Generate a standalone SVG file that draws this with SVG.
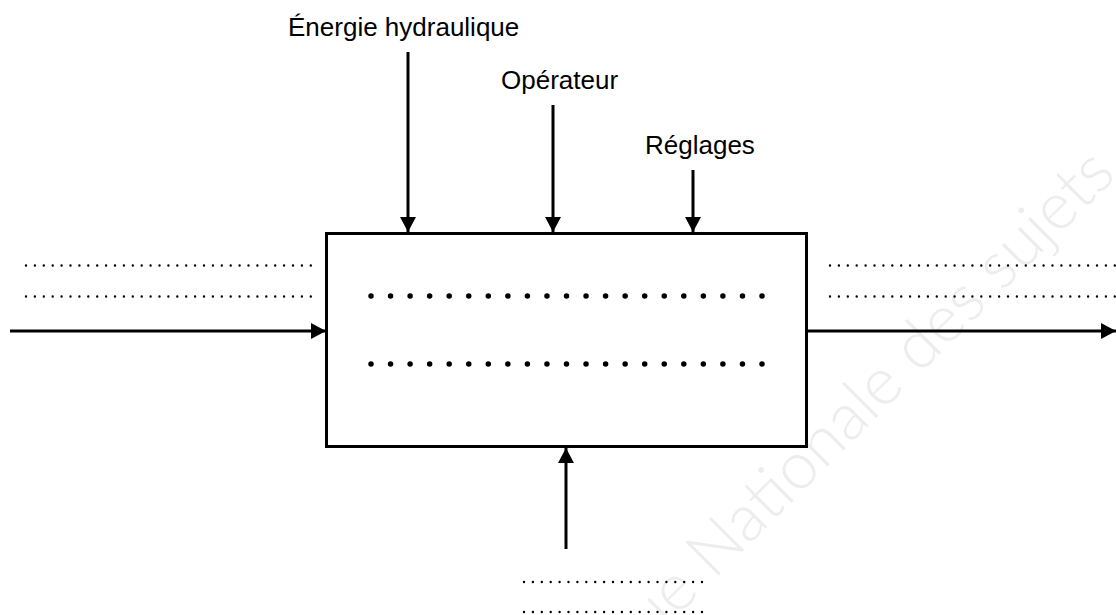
<svg xmlns="http://www.w3.org/2000/svg" width="1116" height="615" viewBox="0 0 1116 615">
  <style>
    .lbl { font-family: "Liberation Sans", Arial, sans-serif; font-size: 26px; fill: #000; }
    .wire { stroke: #000; stroke-width: 3; fill: none; }
    .dots { stroke: #000; stroke-width: 2.4; stroke-linecap: round; stroke-dasharray: 0 8.9; fill: none; }
    .bigdots { stroke: #000; stroke-width: 5.5; stroke-linecap: round; stroke-dasharray: 0 19.55; fill: none; }
    .wm { font-family: "Lato", "Open Sans", sans-serif; font-size: 66px; font-weight: 300; fill: #ededed; }
  </style>
  <defs>
    <marker id="arrow" markerUnits="userSpaceOnUse" markerWidth="17" markerHeight="17" refX="15" refY="8" orient="auto">
      <path d="M0,0 L15,8 L0,16 Z" fill="#000"/>
    </marker>
  </defs>
  <rect width="1116" height="615" fill="#fff"/>

  <g id="watermark">
    <text class="wm" transform="translate(722,572) rotate(-45)" x="-246" y="0">Banque Nationale des sujets</text>
  </g>

  <g id="connectors">
    <line class="wire" x1="408" y1="52" x2="408" y2="232" marker-end="url(#arrow)"/>
    <line class="wire" x1="553" y1="105" x2="553" y2="232" marker-end="url(#arrow)"/>
    <line class="wire" x1="693" y1="170" x2="693" y2="232" marker-end="url(#arrow)"/>
    <line class="wire" x1="10" y1="331" x2="326" y2="331" marker-end="url(#arrow)"/>
    <line class="wire" x1="808" y1="331" x2="1116" y2="331" marker-end="url(#arrow)"/>
    <line class="wire" x1="566" y1="549" x2="566" y2="448" marker-end="url(#arrow)"/>
  </g>

  <g id="node-process">
    <rect class="wire" x="326.5" y="233.5" width="480" height="213"/>
    <line class="bigdots" x1="371" y1="296" x2="763" y2="296"/>
    <line class="bigdots" x1="371" y1="364" x2="763" y2="364"/>
  </g>

  <g id="label-energie">
    <text class="lbl" x="288" y="36">Énergie hydraulique</text>
  </g>
  <g id="label-operateur">
    <text class="lbl" x="501" y="89">Opérateur</text>
  </g>
  <g id="label-reglages">
    <text class="lbl" x="645" y="154">Réglages</text>
  </g>

  <g id="input-dots">
    <line class="dots" x1="26" y1="265.5" x2="311" y2="265.5"/>
    <line class="dots" x1="26" y1="296.5" x2="311" y2="296.5"/>
  </g>
  <g id="output-dots">
    <line class="dots" x1="830" y1="265.5" x2="1116" y2="265.5"/>
    <line class="dots" x1="830" y1="296.5" x2="1116" y2="296.5"/>
  </g>
  <g id="bottom-dots">
    <line class="dots" x1="524" y1="582" x2="704" y2="582"/>
    <line class="dots" x1="524" y1="612" x2="704" y2="612"/>
  </g>
</svg>
